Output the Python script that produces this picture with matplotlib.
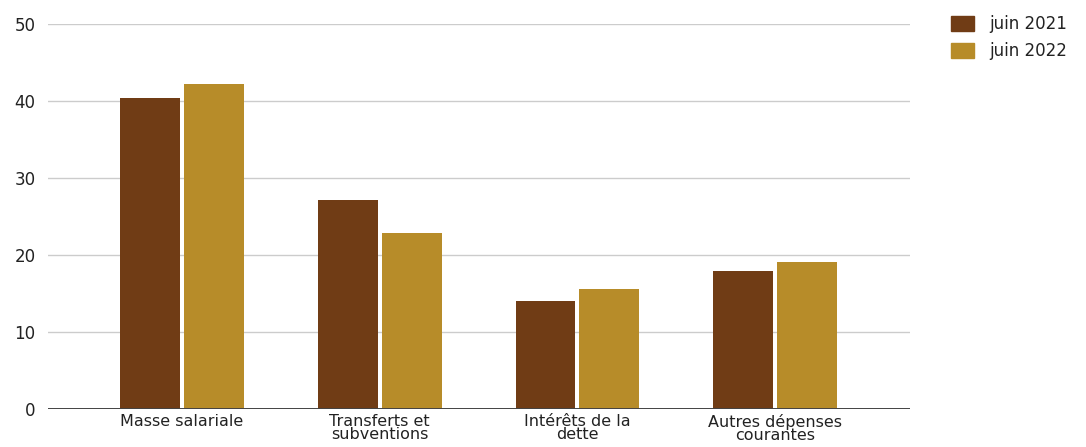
import matplotlib.pyplot as plt
import numpy as np
from matplotlib.patches import Patch

categories = ['Masse salariale', 'Transferts et\nsubventions',
              'Intérêts de la\ndette', 'Autres dépenses\ncourantes']
juin_2021 = [40.4, 27.2, 14.1, 18.0]
juin_2022 = [42.1, 22.8, 15.6, 19.1]
series_labels = ['juin 2021', 'juin 2022']
colors = ['#703C15', '#B78C29']

plt.rcParams['font.family'] = ['DejaVu Sans']

fig = plt.figure(figsize=(10.86, 4.47), dpi=100)
ax = fig.add_axes([0.0442, 0.0839, 0.7938, 0.8635])

x = np.arange(len(categories))
w = 0.303
gap = 0.01
ax.bar(x - w / 2 - gap, juin_2021, w, color=colors[0], zorder=3)
ax.bar(x + w / 2 + gap, juin_2022, w, color=colors[1], zorder=3)

ax.set_xlim(-0.678, 3.683)
ax.set_ylim(0, 50)
ax.set_yticks([0, 10, 20, 30, 40, 50])
ax.yaxis.grid(True, color='#cccccc', linewidth=1, zorder=0)
ax.axhline(0, color='#444444', linewidth=1.4, zorder=4)

for side in ['top', 'right', 'left', 'bottom']:
    ax.spines[side].set_visible(False)

ax.set_xticks(x)
ax.set_xticklabels(categories, fontsize=11.5, color='#222222', linespacing=0.88)
ax.tick_params(axis='x', length=0, pad=3)
ax.tick_params(axis='y', length=0, pad=9, labelsize=12, labelcolor='#222222')

handles = [Patch(facecolor=c, edgecolor=c) for c in colors]
fig.legend(handles, series_labels, loc='upper left',
           bbox_to_anchor=(0.862, 1.0), frameon=False, fontsize=12,
           handlelength=1.4, handleheight=1.0, handletextpad=0.9,
           labelspacing=0.55, labelcolor='#222222')

plt.savefig('out.png', dpi=100)
